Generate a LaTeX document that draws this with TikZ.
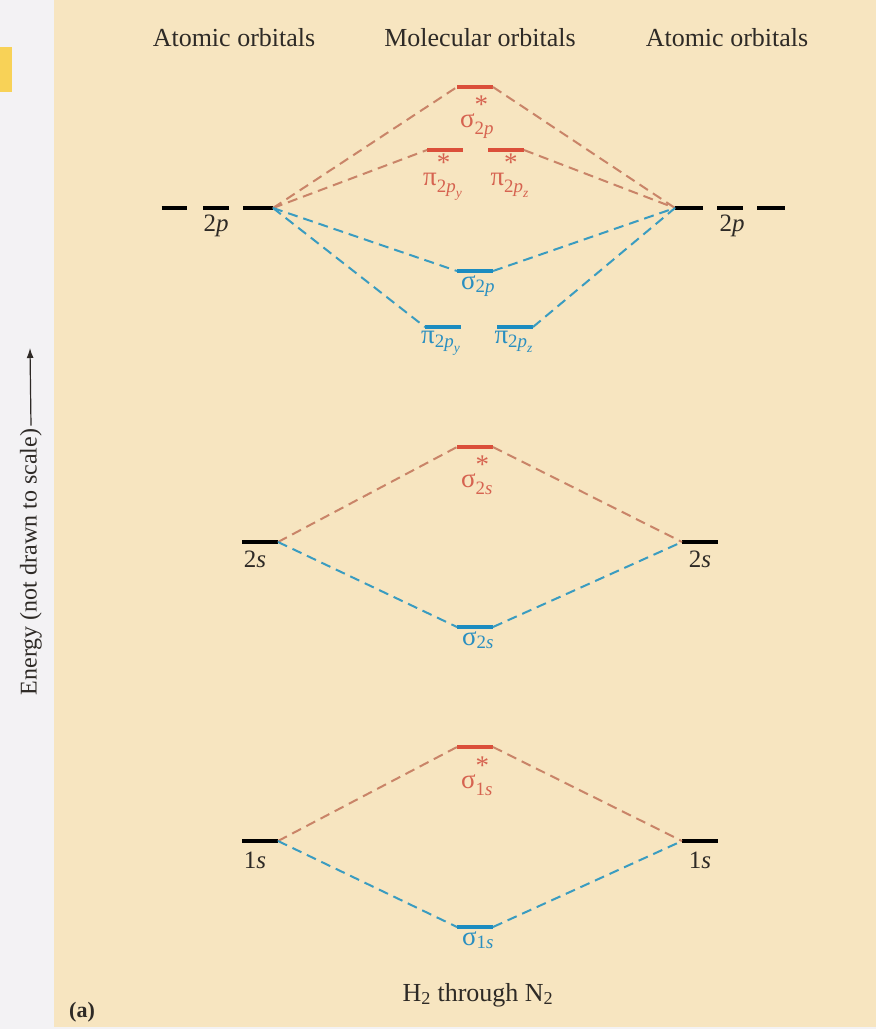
\documentclass[tikz,border=0pt]{standalone}
\usepackage{fontspec}
\usepackage{amsmath}
\usetikzlibrary{arrows.meta}
\setmainfont{Liberation Serif}
\definecolor{beige}{HTML}{F7E5C0}
\definecolor{side}{HTML}{F3F2F4}
\definecolor{tab}{HTML}{F8D257}
\definecolor{redlvl}{HTML}{DB4F3A}
\definecolor{bluelvl}{HTML}{1C8CC0}
\definecolor{redcon}{HTML}{C98468}
\definecolor{bluecon}{HTML}{3A9CC0}
\definecolor{redlab}{HTML}{D66350}
\definecolor{bluelab}{HTML}{2A8FC0}
\definecolor{txt}{HTML}{2E2A26}
\tikzset{
  lvl/.style={inner sep=0, outer sep=0, minimum height=0pt, minimum width=36pt,
    append after command={(\tikzlastnode.west) edge[draw=#1, line width=3.3pt] (\tikzlastnode.east)}},
  rcon/.style={draw=redcon, line width=2pt, dash pattern=on 10pt off 6pt},
  bcon/.style={draw=bluecon, line width=2pt, dash pattern=on 10pt off 6pt},
  lab/.style={inner sep=0, font=\fontsize{27}{29}\selectfont},
  alab/.style={inner sep=0, text=txt, font=\fontsize{25}{27}\selectfont},
  head/.style={inner sep=0, text=txt, font=\fontsize{26}{28}\selectfont}
}
\newcommand{\mystar}{\raisebox{0.35ex}{\text{*}}}
\newcommand{\ostar}[2]{$\text{#1}^{\mystar}_{\text{#2}}$}
\newcommand{\obond}[2]{$\text{#1}_{\text{#2}}$}
\begin{document}
\begin{tikzpicture}[x=1pt,y=-1pt]
\useasboundingbox (0,0) rectangle (876,1029);
\fill[side] (0,0) rectangle (876,1029);
\fill[beige] (54,0) rectangle (876,1027);
\fill[tab] (0,47) rectangle (12,92);
% headers
\node[head] (h1) at (234,38) {Atomic orbitals};
\node[head] (h2) at (480,38) {Molecular orbitals};
\node[head] (h3) at (727,38) {Atomic orbitals};
% atomic levels
\node[lvl=black,minimum width=25pt] (L2pa) at (174,208) {};
\node[lvl=black,minimum width=26pt] (L2pb) at (216,208) {};
\node[lvl=black,minimum width=30pt] (L2pc) at (258,208) {};
\node[lvl=black,minimum width=28pt] (R2pa) at (689,208) {};
\node[lvl=black,minimum width=26pt] (R2pb) at (730,208) {};
\node[lvl=black,minimum width=28pt] (R2pc) at (771,208) {};
\node[lvl=black] (L2s) at (260,542) {};
\node[lvl=black] (R2s) at (700,542) {};
\node[lvl=black] (L1s) at (260,841) {};
\node[lvl=black] (R1s) at (700,841) {};
\node[alab] (tL2p) at (216,226) {2\textit{p}};
\node[alab] (tR2p) at (732,226) {2\textit{p}};
\node[alab] (tL2s) at (255,559) {2\textit{s}};
\node[alab] (tR2s) at (700,559) {2\textit{s}};
\node[alab] (tL1s) at (255,860) {1\textit{s}};
\node[alab] (tR1s) at (700,860) {1\textit{s}};
% molecular levels
\node[lvl=redlvl] (ss2p) at (475,87) {};
\node[lvl=redlvl] (psy) at (445,150) {};
\node[lvl=redlvl] (psz) at (506,150) {};
\node[lvl=bluelvl] (s2p) at (475,271) {};
\node[lvl=bluelvl] (py) at (443,327) {};
\node[lvl=bluelvl] (pz) at (515,327) {};
\node[lvl=redlvl] (ss2s) at (475,447) {};
\node[lvl=bluelvl] (s2s) at (475,627) {};
\node[lvl=redlvl] (ss1s) at (475,747) {};
\node[lvl=bluelvl] (s1s) at (475,927) {};
% molecular labels
\node[lab,text=redlab,anchor=north] (tss2p) at (477,96) {\ostar{σ}{2\textit{p}}};
\node[lab,text=redlab,anchor=north] (tpsy) at (443,154) {$\text{π}^{\mystar}_{\text{2\textit{p}}_{\text{\textit{y}}}}$};
\node[lab,text=redlab,anchor=north] (tpsz) at (510,154) {$\text{π}^{\mystar}_{\text{2\textit{p}}_{\text{\textit{z}}}}$};
\node[lab,text=bluelab,anchor=north] (ts2p) at (478,275) {\obond{σ}{2\textit{p}}};
\node[lab,text=bluelab,anchor=north] (tpy) at (441,331) {$\text{π}_{\text{2\textit{p}}_{\text{\textit{y}}}}$};
\node[lab,text=bluelab,anchor=north] (tpz) at (514,331) {$\text{π}_{\text{2\textit{p}}_{\text{\textit{z}}}}$};
\node[lab,text=redlab,anchor=north] (tss2s) at (477,456) {\ostar{σ}{2\textit{s}}};
\node[lab,text=bluelab,anchor=north] (ts2s) at (478,631) {\obond{σ}{2\textit{s}}};
\node[lab,text=redlab,anchor=north] (tss1s) at (477,757) {\ostar{σ}{1\textit{s}}};
\node[lab,text=bluelab,anchor=north] (ts1s) at (478,931) {\obond{σ}{1\textit{s}}};
% connectors 2p
\draw[rcon] (L2pc.east) -- (ss2p.west);
\draw[rcon] (ss2p.east) -- (R2pa.west);
\draw[rcon] (L2pc.east) -- (psy.west);
\draw[rcon] (psz.east) -- (R2pa.west);
\draw[bcon] (L2pc.east) -- (s2p.west);
\draw[bcon] (s2p.east) -- (R2pa.west);
\draw[bcon] (L2pc.east) -- (py.west);
\draw[bcon] (pz.east) -- (R2pa.west);
% 2s
\draw[rcon] (L2s.east) -- (ss2s.west);
\draw[rcon] (ss2s.east) -- (R2s.west);
\draw[bcon] (L2s.east) -- (s2s.west);
\draw[bcon] (s2s.east) -- (R2s.west);
% 1s
\draw[rcon] (L1s.east) -- (ss1s.west);
\draw[rcon] (ss1s.east) -- (R1s.west);
\draw[bcon] (L1s.east) -- (s1s.west);
\draw[bcon] (s1s.east) -- (R1s.west);
% energy axis
\node[head,rotate=90,font=\fontsize{24}{26}\selectfont] (en) at (31,562) {Energy (not drawn to scale)};
\coordinate (tip) at (30,348);
\draw[-{Latex[length=10pt,width=7pt]},line width=1.2pt,draw=txt] (en.east) ++(0,-3) -- (tip);
% bottom
\node[head] (bot) at (478,995) {H\textsubscript{2} through N\textsubscript{2}};
\node[head,font=\bfseries\fontsize{22}{24}\selectfont] (a) at (82,1012) {(a)};
\end{tikzpicture}
\end{document}
